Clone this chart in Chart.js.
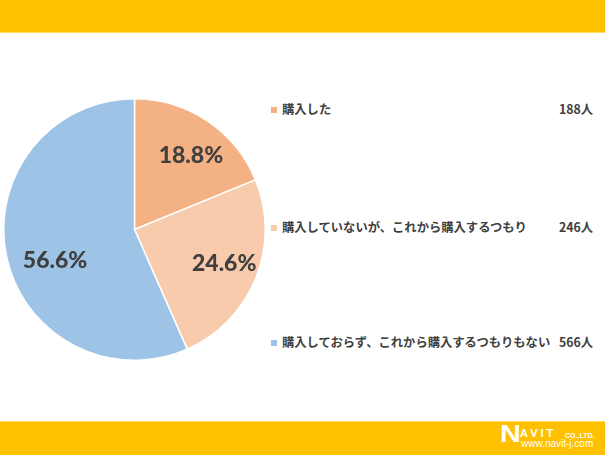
<!DOCTYPE html>
<html>
<head>
<meta charset="utf-8">
<script src="https://cdn.jsdelivr.net/npm/chart.js@4.4.1/dist/chart.umd.min.js"></script>
<style>
body { margin:0; background:#fff; }
#wrap { position:relative; width:605px; height:455px; overflow:hidden; font-family:"Noto Sans CJK JP", sans-serif; }
#top { position:absolute; left:0; top:0; width:605px; height:32px; background:#FFC000; border-bottom:1px solid #FFD966; }
#bottom { position:absolute; left:0; top:421px; width:605px; height:34px; background:#FFC000; border-top:1px solid #FFD966; }
#pie { position:absolute; left:3px; top:98px; }
.item { position:absolute; left:271px; width:322px; font-size:12.3px; font-weight:bold; color:#404040; height:16px; line-height:16px; white-space:nowrap; }
.item .sq { display:inline-block; width:6px; height:6px; margin-right:5px; vertical-align:1px; }
.item .val { position:absolute; right:0; top:0; }
#logo { position:absolute; left:0; top:0; color:#fff; font-family:"Liberation Sans", sans-serif; white-space:nowrap; }
#logo span { position:absolute; }
</style>
</head>
<body>
<div id="wrap">
  <div id="top"></div>
  <div id="bottom"></div>
  <canvas id="pie" width="263" height="263"></canvas>
  <div id="legend"></div>
  <div id="logo">
    <span style="left:500px;top:421px;font-size:24px;font-weight:bold;line-height:26px;transform:scaleX(1.2);transform-origin:left top;">N</span>
    <span style="left:520px;top:428px;font-size:11px;font-weight:bold;line-height:11px;letter-spacing:3px;">AVIT</span>
    <span style="left:565px;top:432px;font-size:7px;font-weight:bold;line-height:7px;">CO.,LTD.</span>
    <span style="left:521px;top:438px;font-size:10px;line-height:11px;">www.navit-j.com</span>
  </div>
</div>
<script>
var labels = ['購入した', '購入していないが、これから購入するつもり', '購入しておらず、これから購入するつもりもない'];
var counts = [188, 246, 566];
var percents = [18.8, 24.6, 56.6];
var colors = ['#F4B183', '#F8CBAD', '#9DC3E6'];
var legendTops = [101, 219, 334];

// legend
var legend = document.getElementById('legend');
for (var i = 0; i < labels.length; i++) {
	var d = document.createElement('div');
	d.className = 'item';
	d.style.top = legendTops[i] + 'px';
	d.innerHTML = '<span class="sq" style="background:' + colors[i] + '"></span>' + labels[i] +
		'<span class="val">' + counts[i] + '人</span>';
	legend.appendChild(d);
}

// percent labels inside slices (Excel-like placement, tweaked per slice)
var pctLabels = {
	id: 'pctLabels',
	afterDatasetsDraw: function(chart, args, opts) {
		var ctx = chart.ctx;
		var meta = chart.getDatasetMeta(0);
		ctx.save();
		ctx.font = '900 23px Lato, sans-serif';
		ctx.fillStyle = '#404040';
		ctx.textAlign = 'center';
		ctx.textBaseline = 'middle';
		meta.data.forEach(function(arc, i) {
			var p = arc.getProps(['x', 'y', 'startAngle', 'endAngle', 'outerRadius']);
			var mid = (p.startAngle + p.endAngle) / 2 + opts.shift[i] * Math.PI / 180;
			var r = p.outerRadius * opts.radius[i];
			ctx.fillText(percents[i].toFixed(1) + '%', p.x + Math.cos(mid) * r, p.y + Math.sin(mid) * r + 1);
		});
		ctx.restore();
	}
};

var pieChart = new Chart(document.getElementById('pie'), {
	type: 'pie',
	data: {
		labels: labels,
		datasets: [{
			data: counts,
			backgroundColor: colors,
			borderColor: '#ffffff',
			borderWidth: 1.5
		}]
	},
	options: {
		responsive: false,
		animation: false,
		layout: { padding: 0 },
		plugins: {
			legend: { display: false },
			tooltip: { enabled: false },
			pctLabels: { radius: [0.72, 0.73, 0.65], shift: [3, -2, -9] }
		}
	},
	plugins: [pctLabels]
});
</script>
</body>
</html>
